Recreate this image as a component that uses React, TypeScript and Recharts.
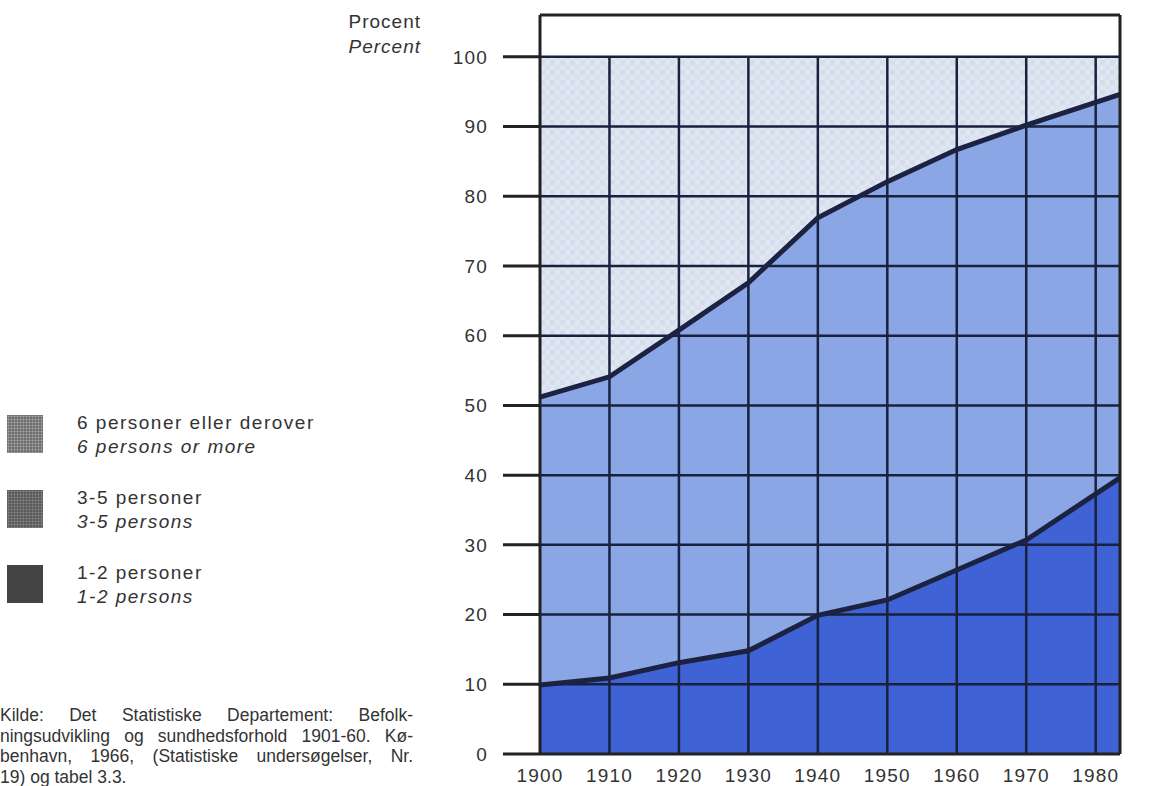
import React from 'react';
import {
  ComposedChart,
  Area,
  Line,
  XAxis,
  YAxis,
  ReferenceLine
} from 'recharts';

// census years (last point is the early 1980s count at the right edge of the frame)
const years = [1900, 1910, 1920, 1930, 1940, 1950, 1960, 1970, 1983.5];
// share of households, percent
const onePlusTwo = [9.9, 10.9, 13.1, 14.8, 19.9, 22.1, 26.4, 30.7, 39.6];
const threeToFive = [41.3, 43.2, 47.7, 52.8, 57.0, 60.0, 60.3, 59.5, 55.0];
const sixOrMore = [48.8, 45.9, 39.2, 32.4, 23.1, 17.9, 13.3, 9.8, 5.4];

const yTicks = [0, 10, 20, 30, 40, 50, 60, 70, 80, 90, 100];
const rightTicks = [10, 20, 30, 40, 50, 60, 70, 80, 90, 100, 106];
const decadeTicks = [1900, 1910, 1920, 1930, 1940, 1950, 1960, 1970, 1980];

const legendItems = [
  { no: '6 personer eller derover', en: '6 persons or more', pattern: 'light' },
  { no: '3-5 personer', en: '3-5 persons', pattern: 'dark' },
  { no: '1-2 personer', en: '1-2 persons', pattern: 'solid' }
];

const sourceLines = [
  'Kilde: Det Statistiske Departement: Befolk-',
  'ningsudvikling og sundhedsforhold 1901-60. Kø-',
  'benhavn, 1966, (Statistiske undersøgelser, Nr.',
  '19) og tabel 3.3.'
];

const data = years.map((year, i) => ({
  year,
  small: onePlusTwo[i],
  medium: threeToFive[i],
  large: sixOrMore[i],
  lowerEdge: onePlusTwo[i],
  upperEdge: onePlusTwo[i] + threeToFive[i]
}));

const FONT = '"Liberation Sans", Arial, Helvetica, sans-serif';
const GRID = '#18213d';
const FRAME = '#222';
const tickStyle = { fontSize: 19, fill: '#333', fontFamily: FONT, letterSpacing: 1.2 };

const Swatch = ({ kind }: { kind: string }) => {
  if (kind === 'solid') {
    return <div style={{ width: 36, height: 38, background: '#444' }} />;
  }
  const base = kind === 'light' ? '#6f6f6f' : '#5a5a5a';
  const dot = kind === 'light' ? '#a4a4a4' : '#868686';
  return (
    <div
      style={{
        width: 36,
        height: 38,
        backgroundColor: base,
        backgroundImage: `radial-gradient(${dot} 0.8px, transparent 1.2px)`,
        backgroundSize: '3px 3px'
      }}
    />
  );
};

export default function App() {
  return (
    <div style={{ position: 'absolute', left: 0, top: 0, width: 1150, height: 786, background: '#fff', fontFamily: FONT, color: '#333' }}>
      {/* axis caption */}
      <div style={{ position: 'absolute', right: 1150 - 421, top: 9, fontSize: 19, lineHeight: '25px', letterSpacing: 1, textAlign: 'right' }}>
        <div>Procent</div>
        <div style={{ fontStyle: 'italic' }}>Percent</div>
      </div>

      {/* legend */}
      {legendItems.map((item, i) => (
        <div key={item.en} style={{ position: 'absolute', left: 7, top: 415 + i * 75, display: 'flex' }}>
          <Swatch kind={item.pattern} />
          <div style={{ marginLeft: 34, marginTop: -4, fontSize: 19, lineHeight: '24px', letterSpacing: 1.5 }}>
            <div>{item.no}</div>
            <div style={{ fontStyle: 'italic' }}>{item.en}</div>
          </div>
        </div>
      ))}

      {/* source */}
      <div style={{ position: 'absolute', left: 0, top: 705, width: 413, fontSize: 17.5, lineHeight: '20.5px' }}>
        {sourceLines.map((line, i) => (
          <div
            key={i}
            style={{
              textAlign: i < sourceLines.length - 1 ? 'justify' : 'left',
              textAlignLast: i < sourceLines.length - 1 ? 'justify' : 'left',
              whiteSpace: 'nowrap'
            }}
          >
            {line}
          </div>
        ))}
      </div>

      <div style={{ position: 'absolute', left: 0, top: 0 }}>
        <ComposedChart width={1150} height={786} data={data} margin={{ top: 15, right: 0, bottom: 0, left: 0 }}>
          <defs>
            <pattern id="check" width="10" height="10" patternUnits="userSpaceOnUse">
              <rect width="10" height="10" fill="#e0e7f2" />
              <rect width="5" height="5" fill="#d3ddec" />
              <rect x="5" y="5" width="5" height="5" fill="#d8e1ee" />
            </pattern>
          </defs>
          <XAxis
            dataKey="year"
            type="number"
            domain={[1900, 1983.5]}
            ticks={decadeTicks}
            height={32}
            tickLine={false}
            axisLine={{ stroke: FRAME, strokeWidth: 3 }}
            tick={tickStyle}
            tickMargin={9}
          />
          <YAxis
            yAxisId="left"
            type="number"
            domain={[0, 106]}
            ticks={yTicks}
            width={540}
            tickSize={37}
            tickMargin={15}
            tickLine={{ stroke: FRAME, strokeWidth: 3 }}
            axisLine={{ stroke: FRAME, strokeWidth: 3 }}
            tick={tickStyle}
            allowDataOverflow
          />
          <YAxis
            yAxisId="right"
            orientation="right"
            type="number"
            domain={[0, 106]}
            ticks={rightTicks}
            width={30}
            tickSize={30}
            tick={false}
            tickLine={{ stroke: FRAME, strokeWidth: 3 }}
            axisLine={{ stroke: FRAME, strokeWidth: 3 }}
            allowDataOverflow
          />
          <Area yAxisId="left" type="linear" dataKey="small" stackId="a" fill="#3f63d4" fillOpacity={1} stroke="none" isAnimationActive={false} />
          <Area yAxisId="left" type="linear" dataKey="medium" stackId="a" fill="#8ba6e5" fillOpacity={1} stroke="none" isAnimationActive={false} />
          <Area yAxisId="left" type="linear" dataKey="large" stackId="a" fill="url(#check)" fillOpacity={1} stroke="none" isAnimationActive={false} />
          {yTicks.slice(1).map(t => (
            <ReferenceLine key={'h' + t} yAxisId="left" y={t} stroke={GRID} strokeWidth={2.5} />
          ))}
          {decadeTicks.slice(1).map(t => (
            <ReferenceLine key={'v' + t} yAxisId="left" segment={[{ x: t, y: 0 }, { x: t, y: 100 }]} stroke={GRID} strokeWidth={2.5} />
          ))}
          <ReferenceLine yAxisId="left" y={106} stroke={FRAME} strokeWidth={3} />
          <Line yAxisId="left" type="linear" dataKey="lowerEdge" stroke="#1c2342" strokeWidth={5} dot={false} isAnimationActive={false} />
          <Line yAxisId="left" type="linear" dataKey="upperEdge" stroke="#1c2342" strokeWidth={5} dot={false} isAnimationActive={false} />
        </ComposedChart>
      </div>
    </div>
  );
}
